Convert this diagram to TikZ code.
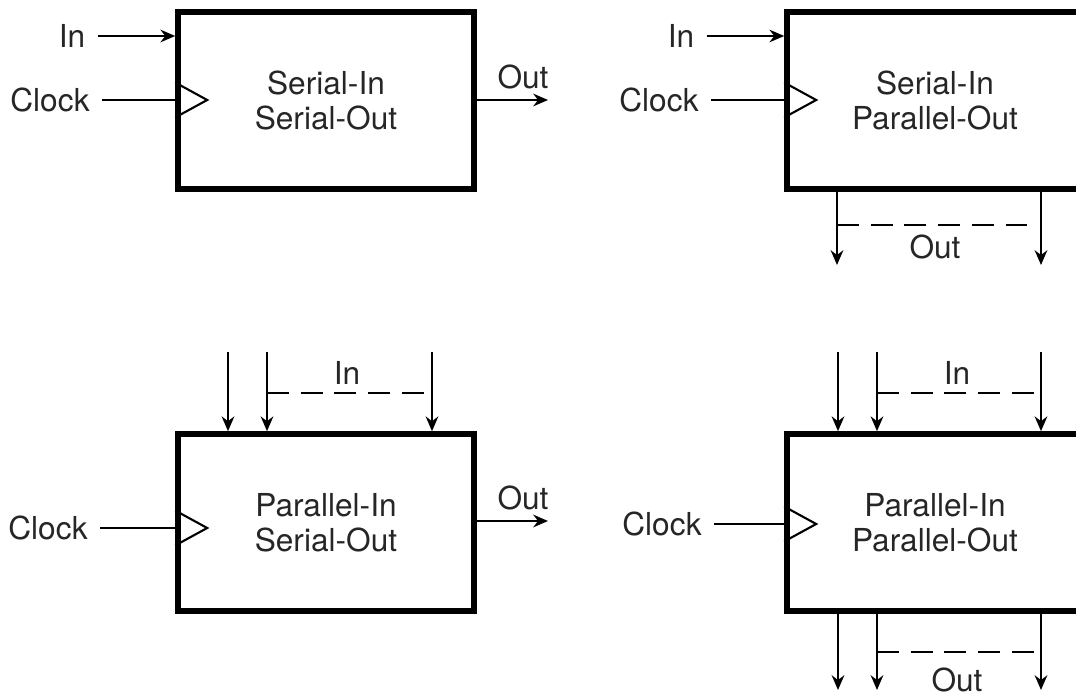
\documentclass[tikz,border=0pt]{standalone}
\usepackage{fontspec}
\setmainfont{TeX Gyre Heros}
\usetikzlibrary{arrows.meta,positioning}

\tikzset{
  regbox/.style={draw, line width=1.6pt, minimum width=2.96cm, minimum height=1.77cm, inner sep=0pt, align=center},
  wire/.style={line width=0.6pt},
  sig/.style={wire, -{Stealth[length=4.2pt,width=3.6pt]}},
  bus/.style={wire, dash pattern=on 6.2pt off 3.4pt}
}
% clock input triangle on the left side of a box
\newcommand{\clocktri}[1]{\draw[wire] ([yshift=1.75mm]#1) -- ++(3.2mm,-1.75mm) -- ++(-3.2mm,-1.75mm);}

\begin{document}
\begin{tikzpicture}[font=\fontsize{9}{10}\selectfont, text=black!85]
  \useasboundingbox (0,0) rectangle (10.76,-6.93);

  % Serial-In Serial-Out
  \node[regbox] (siso) at (3.26,-1.005) {Serial-In\\Serial-Out};
  \node (siso in) at (0.72,-0.36) {In};
  \node (siso clk) at (0.50,-1.00) {Clock};
  \coordinate (siso ck) at (siso clk -| siso.west);
  \coordinate (siso out) at (5.48,-1.00);
  \node (siso outlbl) at (5.23,-0.77) {Out};
  \draw[sig] (siso in) -- (siso in -| siso.west);
  \draw[wire] (siso clk) -- (siso ck);
  \clocktri{siso ck}
  \draw[sig] (siso out -| siso.east) -- (siso out);

  % Serial-In Parallel-Out
  \node[regbox] (sipo) at (9.35,-1.005) {Serial-In\\Parallel-Out};
  \node (sipo in) at (6.81,-0.36) {In};
  \node (sipo clk) at (6.59,-1.00) {Clock};
  \coordinate (sipo ck) at (sipo clk -| sipo.west);
  \draw[sig] (sipo in) -- (sipo in -| sipo.west);
  \draw[wire] (sipo clk) -- (sipo ck);
  \clocktri{sipo ck}
  \coordinate (sipo o1) at (8.37,-2.65);
  \coordinate (sipo o2) at (10.41,-2.65);
  \draw[sig] (sipo o1 |- sipo.south) -- (sipo o1);
  \draw[sig] (sipo o2 |- sipo.south) -- (sipo o2);
  \draw[bus] ([yshift=4mm]sipo o1) -- ([yshift=4mm,xshift=-1.1mm]sipo o2);
  \node (sipo outlbl) at (9.35,-2.47) {Out};

  % Parallel-In Serial-Out
  \node[regbox] (piso) at (3.26,-5.225) {Parallel-In\\Serial-Out};
  \coordinate (piso i1) at (2.28,-3.52);
  \coordinate (piso i2) at (2.67,-3.52);
  \coordinate (piso i3) at (4.32,-3.52);
  \draw[sig] (piso i1) -- (piso i1 |- piso.north);
  \draw[sig] (piso i2) -- (piso i2 |- piso.north);
  \draw[sig] (piso i3) -- (piso i3 |- piso.north);
  \draw[bus] ([yshift=-4.1mm]piso i2) -- ([yshift=-4.1mm]piso i3);
  \node (piso inlbl) at (3.47,-3.73) {In};
  \node (piso clk) at (0.48,-5.28) {Clock};
  \coordinate (piso ck) at (piso clk -| piso.west);
  \draw[wire] (piso clk) -- (piso ck);
  \clocktri{piso ck}
  \coordinate (piso out) at (5.48,-5.21);
  \node (piso outlbl) at (5.23,-4.98) {Out};
  \draw[sig] (piso out -| piso.east) -- (piso out);

  % Parallel-In Parallel-Out
  \node[regbox] (pipo) at (9.35,-5.225) {Parallel-In\\Parallel-Out};
  \coordinate (pipo i1) at (8.38,-3.52);
  \coordinate (pipo i2) at (8.77,-3.52);
  \coordinate (pipo i3) at (10.41,-3.52);
  \draw[sig] (pipo i1) -- (pipo i1 |- pipo.north);
  \draw[sig] (pipo i2) -- (pipo i2 |- pipo.north);
  \draw[sig] (pipo i3) -- (pipo i3 |- pipo.north);
  \draw[bus] ([yshift=-4.1mm]pipo i2) -- ([yshift=-4.1mm]pipo i3);
  \node (pipo inlbl) at (9.57,-3.73) {In};
  \node (pipo clk) at (6.62,-5.24) {Clock};
  \coordinate (pipo ck) at (pipo clk -| pipo.west);
  \draw[wire] (pipo clk) -- (pipo ck);
  \clocktri{pipo ck}
  \coordinate (pipo o1) at (8.38,-6.90);
  \coordinate (pipo o2) at (8.77,-6.90);
  \coordinate (pipo o3) at (10.41,-6.90);
  \draw[sig] (pipo o1 |- pipo.south) -- (pipo o1);
  \draw[sig] (pipo o2 |- pipo.south) -- (pipo o2);
  \draw[sig] (pipo o3 |- pipo.south) -- (pipo o3);
  \draw[bus] ([yshift=3.8mm]pipo o2) -- ([yshift=3.8mm]pipo o3);
  \node (pipo outlbl) at (9.57,-6.80) {Out};
\end{tikzpicture}
\end{document}
